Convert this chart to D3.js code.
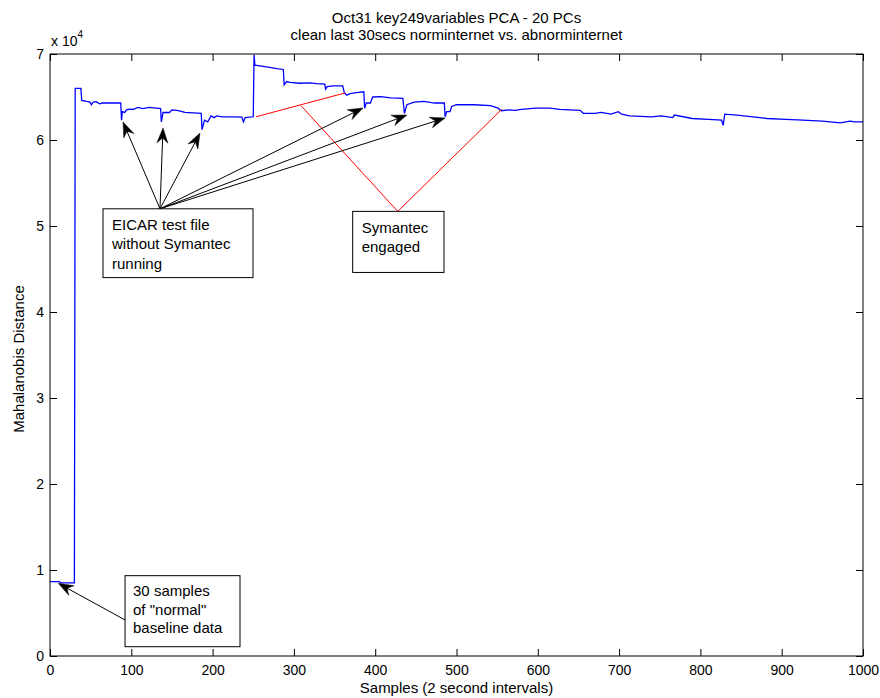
<!DOCTYPE html>
<html>
<head>
<meta charset="utf-8">
<script src="https://cdn.jsdelivr.net/npm/d3@7/dist/d3.min.js"></script>
<style>
  html, body { margin: 0; padding: 0; background: #fff; }
  svg { display: block; font-family: "Liberation Sans", Arial, Helvetica, sans-serif; }
</style>
</head>
<body>
<svg id="chart" width="880" height="698"></svg>
<script>
// Mahalanobis distance per sample (2 s intervals), breakpoints of the trace
const samples = [
  0, 12, 13, 30, 31, 38, 39, 45, 49, 51, 53, 57, 61, 64, 87,
  88, 89, 92, 94, 98, 102, 108, 114, 122, 136,
  137, 139, 147, 150, 156, 159, 166, 176, 186,
  187, 190, 194, 198, 202, 205, 212, 225, 236, 238, 240, 250,
  251, 252, 260, 270, 279, 287,
  288, 291, 295, 307, 320, 328, 338, 339, 341, 348, 357, 360,
  362, 365, 369, 377, 386,
  387, 389, 394, 397, 407, 419, 434,
  436, 439, 448, 460, 473, 485,
  486, 488, 492, 494, 500, 522, 542, 551, 555, 565, 572, 580, 597, 615, 627,
  640, 652, 656, 670, 678, 690, 699, 703, 713, 740, 752, 766, 768, 790, 810, 826,
  828, 830, 845, 865, 882, 905, 926, 950, 972, 984, 990, 1000
];
const distance = [
  8650, 8650, 8500, 8500, 66000, 66000, 64600, 64500, 64400, 64100, 64400, 64450, 64200, 64300, 64300,
  62300, 63300, 63200, 63500, 63600, 63550, 63800, 63650, 63800, 63650,
  62100, 63200, 63200, 63500, 63450, 63400, 63200, 63150, 63100,
  61200, 62300, 62100, 62800, 62600, 62800, 62700, 62700, 62650, 62100, 62600, 62700,
  69900, 68700, 68600, 68450, 68300, 68200,
  66400, 66800, 66700, 66600, 66650, 66550, 66500, 65900, 66200, 66300, 66300, 66300,
  65500, 65200, 65400, 65500, 65600,
  63700, 64300, 64300, 65000, 65050, 64900, 64850,
  63100, 64100, 64400, 64500, 64300, 64300,
  62700, 63300, 63300, 63900, 64100, 64100, 64000, 63700, 63400, 63500, 63450, 63550, 63700, 63700, 63550,
  63500, 63450, 63100, 63100, 63200, 63000, 63300, 63000, 62800, 62700, 62800, 62600, 62900, 62500, 62400, 62300,
  61700, 63000, 62900, 62700, 62500, 62400, 62300, 62200, 62000, 62200, 62100, 62100
];

// Axis ticks
const xTicks = [0, 100, 200, 300, 400, 500, 600, 700, 800, 900, 1000];
const yTicks = [0, 10000, 20000, 30000, 40000, 50000, 60000, 70000];
const yTickLabels = ["0", "1", "2", "3", "4", "5", "6", "7"];

// Annotation boxes: [sample, distance] corners and text lines
const eicarLines = ["EICAR test file", "without Symantec", "running"];
const eicarBox = [[65.2, 52000], [249.7, 44000]];
const eicarOrigin = [135.3, 52000];
const eicarTips = [[89.8, 62100], [139, 61400], [184.5, 60800], [385, 63720], [439, 62900], [486, 62560]];

const symantecLines = ["Symantec", "engaged"];
const symantecBox = [[372.3, 51700], [484.6, 44600]];
const symantecOrigin = [427.7, 51700];
const symantecTargets = [[308.7, 64000], [555.6, 63570]];
const symantecSpan = [[253.4, 62700], [362.9, 65470]];

const baselineLines = ["30 samples", "of \"normal\"", "baseline data"];
const baselineBox = [[92.3, 9340], [233.7, 1080]];
const baselineOrigin = [92.3, 4190];
const baselineTip = [10.2, 8450];

const titleLines = ["Oct31 key249variables PCA - 20 PCs", "clean last 30secs norminternet vs. abnorminternet"];

const W = 880, H = 698;
const m = { left: 50, right: 863, top: 54, bottom: 656 };

const svg = d3.select("#chart");
svg.append("rect").attr("width", W).attr("height", H).attr("fill", "#fff");

const x = d3.scaleLinear().domain([0, 1000]).range([m.left, m.right]);
const y = d3.scaleLinear().domain([0, 70000]).range([m.bottom, m.top]);

const tickFont = 14;

// Bottom axis with labels, inward ticks
const gx = svg.append("g").attr("transform", `translate(0,${m.bottom})`)
  .call(d3.axisBottom(x).tickValues(xTicks).tickFormat(d3.format("d"))
    .tickSizeInner(-7).tickSizeOuter(0).tickPadding(9));
// Left axis
const gy = svg.append("g").attr("transform", `translate(${m.left},0)`)
  .call(d3.axisLeft(y).tickValues(yTicks).tickFormat((d, i) => yTickLabels[i])
    .tickSizeInner(-7).tickSizeOuter(0).tickPadding(6));
// Mirror ticks on top and right
const gt = svg.append("g").attr("transform", `translate(0,${m.top})`)
  .call(d3.axisTop(x).tickValues(xTicks).tickFormat("").tickSizeInner(-7).tickSizeOuter(0));
const gr = svg.append("g").attr("transform", `translate(${m.right},0)`)
  .call(d3.axisRight(y).tickValues(yTicks).tickFormat("").tickSizeInner(-7).tickSizeOuter(0));

[gx, gy, gt, gr].forEach(g => {
  g.select(".domain").remove();
  g.selectAll("line").attr("stroke", "#000").attr("stroke-width", 1);
  g.selectAll("text").attr("fill", "#000").attr("font-size", tickFont)
    .attr("font-family", "'Liberation Sans', Arial, sans-serif");
});

// Exponent marker
const expo = svg.append("text").attr("x", m.left + 1).attr("y", 46)
  .attr("font-size", 14).attr("fill", "#000");
expo.append("tspan").text("x 10");
expo.append("tspan").attr("font-size", 10).attr("dy", -8).text("4");

// Data trace
const line = d3.line().x(d => x(d[0])).y(d => y(d[1]));
const pts = samples.map((s, i) => [s, distance[i]]);
svg.append("path").datum(pts)
  .attr("d", line)
  .attr("fill", "none")
  .attr("stroke", "#0000ff")
  .attr("stroke-width", 1.3)
  .attr("stroke-linejoin", "miter");

// Plot frame
svg.append("rect")
  .attr("x", m.left).attr("y", m.top)
  .attr("width", m.right - m.left).attr("height", m.bottom - m.top)
  .attr("fill", "none").attr("stroke", "#000").attr("stroke-width", 1);

// Titles and axis labels
svg.append("text").attr("x", (m.left + m.right) / 2).attr("y", 23)
  .attr("text-anchor", "middle").attr("font-size", 15).text(titleLines[0]);
svg.append("text").attr("x", (m.left + m.right) / 2).attr("y", 40)
  .attr("text-anchor", "middle").attr("font-size", 15).text(titleLines[1]);
svg.append("text").attr("x", (m.left + m.right) / 2).attr("y", 693)
  .attr("text-anchor", "middle").attr("font-size", 15).text("Samples (2 second intervals)");
svg.append("text").attr("transform", `translate(24,${(m.top + m.bottom) / 2 + 4}) rotate(-90)`)
  .attr("text-anchor", "middle").attr("font-size", 15).text("Mahalanobis Distance");

// Arrow helper: line plus notched filled head
function arrow(from, to) {
  const x1 = x(from[0]), y1 = y(from[1]), x2 = x(to[0]), y2 = y(to[1]);
  const ang = Math.atan2(y2 - y1, x2 - x1);
  const L = 15, Wd = 5.5, N = 10;
  svg.append("line").attr("x1", x1).attr("y1", y1)
    .attr("x2", x2 - Math.cos(ang) * N).attr("y2", y2 - Math.sin(ang) * N)
    .attr("stroke", "#000").attr("stroke-width", 1);
  const c = Math.cos(ang), s = Math.sin(ang);
  const p = (dx, dy) => [x2 + dx * c - dy * s, y2 + dx * s + dy * c];
  const head = [p(0, 0), p(-L, Wd), p(-N, 0), p(-L, -Wd)];
  svg.append("path").attr("d", "M" + head.map(q => q.join(",")).join("L") + "Z")
    .attr("fill", "#000").attr("stroke", "#000").attr("stroke-width", 0.5);
}

function textBox(box, lines, padX, firstBaseline, lineGap) {
  const x0 = x(box[0][0]), y0 = y(box[0][1]), x1 = x(box[1][0]), y1 = y(box[1][1]);
  svg.append("rect").attr("x", x0).attr("y", y0).attr("width", x1 - x0).attr("height", y1 - y0)
    .attr("fill", "#fff").attr("stroke", "#000").attr("stroke-width", 1);
  lines.forEach((t, i) => {
    svg.append("text").attr("x", x0 + padX).attr("y", y0 + firstBaseline + i * lineGap)
      .attr("font-size", 15).attr("fill", "#000").text(t);
  });
}

// Symantec annotation (red connectors)
svg.append("line")
  .attr("x1", x(symantecSpan[0][0])).attr("y1", y(symantecSpan[0][1]))
  .attr("x2", x(symantecSpan[1][0])).attr("y2", y(symantecSpan[1][1]))
  .attr("stroke", "#ff0000").attr("stroke-width", 1);
symantecTargets.forEach(t => {
  svg.append("line")
    .attr("x1", x(symantecOrigin[0])).attr("y1", y(symantecOrigin[1]))
    .attr("x2", x(t[0])).attr("y2", y(t[1]))
    .attr("stroke", "#ff0000").attr("stroke-width", 1);
});
textBox(symantecBox, symantecLines, 9, 22, 18.5);

// EICAR annotation
eicarTips.forEach(t => arrow(eicarOrigin, t));
textBox(eicarBox, eicarLines, 9, 21, 19.5);

// Baseline annotation
arrow(baselineOrigin, baselineTip);
textBox(baselineBox, baselineLines, 8, 20.5, 18.5);
</script>
</body>
</html>
